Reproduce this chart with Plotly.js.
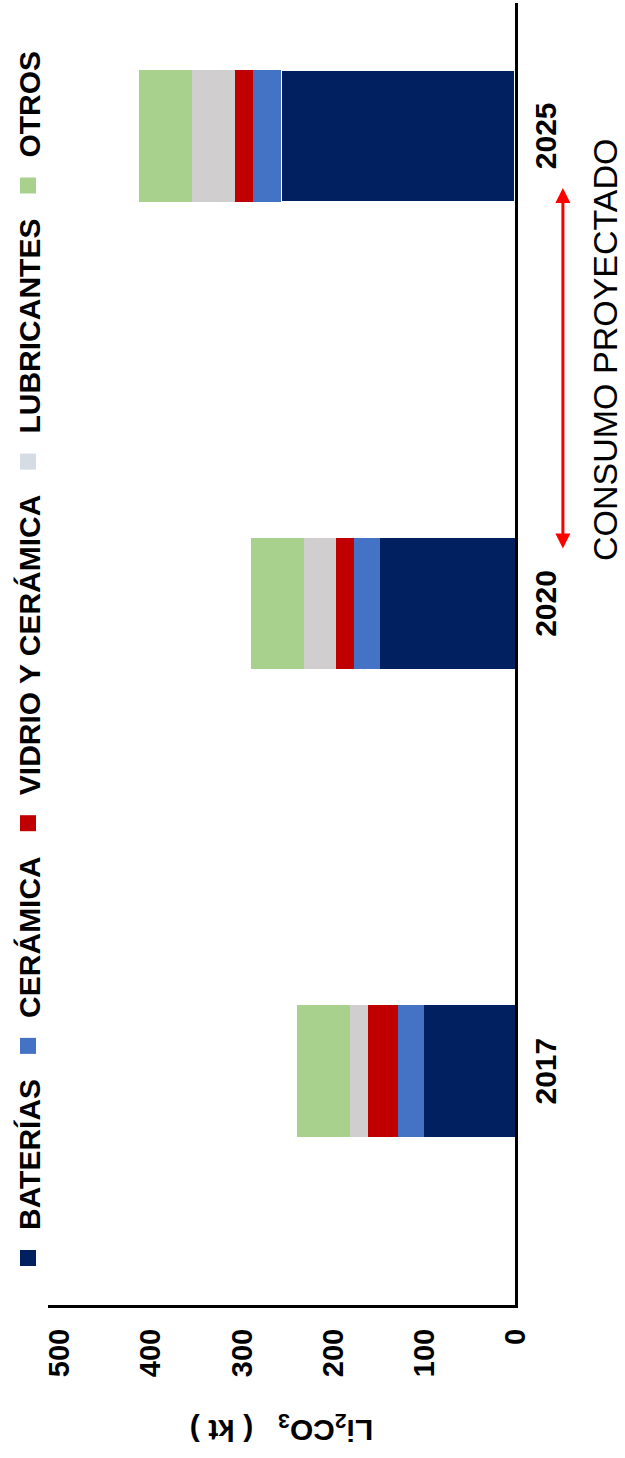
<!DOCTYPE html>
<html>
<head>
<meta charset="utf-8">
<script src="https://cdn.plot.ly/plotly-3.0.1.min.js"></script>
<style>
  html, body { margin: 0; padding: 0; background: #ffffff; overflow: hidden; width: 625px; height: 1458px; }
  #wrap { position: absolute; left: 0; top: 0; width: 1458px; height: 625px;
          transform-origin: 0 0; transform: translate(0px, 1458px) rotate(-90deg); }
</style>
</head>
<body>
<div id="wrap"><div id="chart"></div></div>
<script>
// ---- data ----
const years = ['2017', '2020', '2025'];
const seriesNames = ['BATERÍAS', 'CERÁMICA', 'VIDRIO Y CERÁMICA', 'LUBRICANTES', 'OTROS'];
const baterias    = [100, 148, 256.5];
const ceramica    = [28.5, 28.5, 30.5];
const vidrio      = [33, 19.5, 19.5];
const lubricantes = [19.5, 35, 48];
const otros       = [58, 58, 58];
const valueTicks  = [0, 100, 200, 300, 400, 500];
const yTitle = 'Li<sub>2</sub>CO<sub>3</sub>&nbsp;&nbsp;&nbsp;(&nbsp;kt&nbsp;)';
const noteText = 'CONSUMO PROYECTADO';

// ---- styles ----
const colors = ['#002060', '#4472C4', '#C00000', '#D0CECE', '#A9D18E'];
const legendColors = ['#002060', '#4472C4', '#C00000', '#D5DCE4', '#A9D18E'];
const FONT = 'Liberation Sans, Arial, Helvetica, sans-serif';
const seriesValues = [baterias, ceramica, vidrio, lubricantes, otros];

const barTraces = seriesValues.map((vals, i) => ({
  type: 'bar',
  name: seriesNames[i],
  legendgroup: seriesNames[i],
  showlegend: false,
  x: years,
  y: vals,
  width: 0.282,
  marker: {
    color: colors[i],
    line: i === 0 ? { color: '#ffffff', width: [0, 0, 2] } : { width: 0 }
  },
  hoverinfo: 'skip'
}));

// legend entries (square keys) for the same series
const legendTraces = seriesNames.map((nm, i) => ({
  type: 'scatter',
  mode: 'markers',
  name: nm,
  legendgroup: nm,
  x: [null], y: [null],
  marker: { symbol: 'square', size: 16, color: legendColors[i], line: { width: 0 } },
  hoverinfo: 'skip'
}));

const W = 1458, H = 625;
const mL = 153, mR = 3, mT = 47, mB = 110;
const pw = W - mL - mR, ph = H - mT - mB;
const px = v => (v - mL) / pw;            // pixel x -> paper x
const py = v => (H - mB - v) / ph;        // pixel y -> paper y

const layout = {
  width: W, height: H,
  margin: { l: mL, r: mR, t: mT, b: mB, pad: 0 },
  paper_bgcolor: '#ffffff',
  plot_bgcolor: 'rgba(0,0,0,0)',
  barmode: 'stack',
  font: { family: FONT, color: '#000000' },
  showlegend: true,
  legend: {
    orientation: 'h',
    x: px(172), xanchor: 'left',
    y: py(28), yanchor: 'middle',
    traceorder: 'normal',
    itemwidth: 46,
    font: { family: FONT, size: 30, weight: 'bold', color: '#000000' },
    bgcolor: 'rgba(0,0,0,0)'
  },
  xaxis: {
    type: 'category',
    range: [-0.5, 2.284],
    showline: true, linecolor: '#000000', linewidth: 3,
    showgrid: false, zeroline: false,
    ticks: '', ticklabelstandoff: 2,
    tickfont: { family: FONT, size: 30, weight: 'bold', color: '#000000' }
  },
  yaxis: {
    range: [0, 512],
    tickvals: valueTicks,
    ticktext: valueTicks.map(String),
    showline: true, linecolor: '#000000', linewidth: 3,
    showgrid: false, zeroline: false,
    ticks: '', ticklabelstandoff: 15,
    tickfont: { family: FONT, size: 29, weight: 'bold', color: '#000000' },
    title: { text: yTitle, standoff: 34, font: { family: FONT, size: 30, weight: 'bold', color: '#000000' } }
  },
  annotations: [
    {
      xref: 'paper', yref: 'paper',
      x: px(1270), y: py(563),
      ax: -362, ay: 0,
      text: '', showarrow: true,
      arrowside: 'end+start', arrowhead: 2, startarrowhead: 2,
      arrowsize: 1, startarrowsize: 1, arrowwidth: 3, arrowcolor: '#FF0000',
      standoff: 0, startstandoff: 0
    },
    {
      xref: 'paper', yref: 'paper',
      x: px(1108), y: py(605),
      xanchor: 'center', yanchor: 'middle',
      text: noteText, showarrow: false,
      font: { family: FONT, size: 34, color: '#000000' }
    }
  ]
};

Plotly.newPlot('chart', barTraces.concat(legendTraces), layout, { displayModeBar: false, staticPlot: true });
</script>
</body>
</html>
